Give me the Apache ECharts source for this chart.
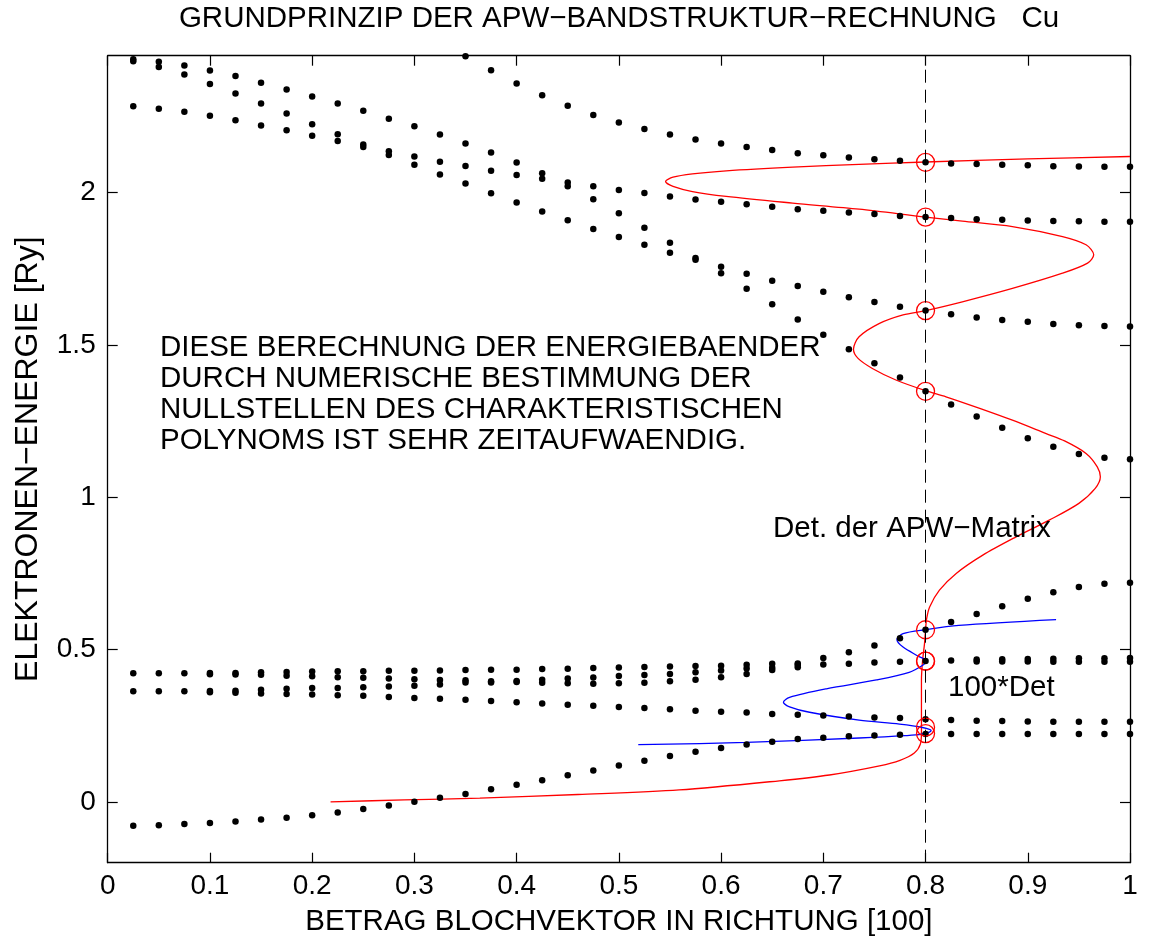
<!DOCTYPE html>
<html>
<head>
<meta charset="utf-8">
<script src="https://cdn.jsdelivr.net/npm/echarts@6/dist/echarts.min.js"></script>
<style>
html,body{margin:0;padding:0;background:#fff;}
#c{width:1151px;height:944px;}
</style>
</head>
<body>
<div id="c"></div>
<script>
// Bloch vector positions (columns of computed dots)
const kx = [0.025,0.05,0.075,0.1,0.125,0.15,0.175,0.2,0.225,0.25,0.275,0.3,0.325,0.35,0.375,0.4,0.425,0.45,0.475,0.5,
            0.525,0.55,0.575,0.6,0.625,0.65,0.675,0.7,0.725,0.75,0.775,0.8,0.825,0.85,0.875,0.9,0.925,0.95,0.975,1.0];

// upper band energies per column [Ry]
const eHigh = [
 [2.438,2.432,2.284],[2.430,2.413,2.276],[2.418,2.388,2.266],[2.401,2.357,2.253],[2.383,2.326,2.238],
 [2.361,2.293,2.221],[2.339,2.260,2.205],[2.316,2.225,2.187],[2.293,2.192,2.170],[2.269,2.158,2.150],
 [2.243,2.136,2.124],[2.218,2.119,2.092],[2.191,2.102,2.060],[2.448,2.162,2.088,2.030],[2.402,2.132,2.072,1.998],
 [2.359,2.099,2.058,1.968],[2.320,2.064,2.046,1.938],[2.286,2.034,2.021,1.910],[2.255,2.021,1.979,1.881],[2.231,2.009,1.933,1.855],
 [2.209,1.999,1.885,1.829],[2.191,1.988,1.836,1.803],[2.175,1.978,1.786,1.780],[2.162,1.970,1.757,1.736],[2.150,1.962,1.734,1.685],
 [2.140,1.954,1.711,1.634],[2.130,1.946,1.694,1.584],[2.123,1.941,1.675,1.534],[2.116,1.935,1.657,1.486],[2.110,1.930,1.641,1.440],
 [2.105,1.924,1.626,1.393],[2.100,1.920,1.613,1.348],[2.096,1.917,1.601,1.305],[2.094,1.913,1.590,1.265],[2.092,1.911,1.582,1.228],
 [2.090,1.909,1.576,1.194],[2.087,1.907,1.569,1.166],[2.086,1.906,1.565,1.142],[2.085,1.905,1.562,1.130],[2.085,1.905,1.561,1.125]
];

// lower band energies per column [Ry]
const eLow = [
 [0.422,0.363,-0.079],[0.422,0.363,-0.077],[0.422,0.363,-0.073],[0.423,0.419,0.364,0.360,-0.070],[0.423,0.418,0.365,0.358,-0.065],
 [0.425,0.417,0.368,0.356,-0.058],[0.426,0.414,0.371,0.354,-0.052],[0.428,0.412,0.374,0.352,-0.044],[0.429,0.409,0.374,0.350,-0.035],[0.429,0.407,0.376,0.348,-0.024],
 [0.430,0.405,0.379,0.344,-0.012],[0.430,0.402,0.381,0.341,0.000],[0.431,0.400,0.385,0.338,0.013],[0.433,0.399,0.392,0.335,0.026],[0.434,0.396,0.392,0.331,0.041],
 [0.434,0.397,0.393,0.327,0.056],[0.436,0.401,0.391,0.323,0.071],[0.437,0.405,0.389,0.319,0.087],[0.439,0.408,0.388,0.315,0.103],[0.441,0.413,0.389,0.311,0.119],
 [0.443,0.416,0.391,0.308,0.135],[0.444,0.420,0.396,0.304,0.150],[0.446,0.425,0.401,0.299,0.164],[0.447,0.431,0.409,0.296,0.177],[0.450,0.438,0.420,0.293,0.188],
 [0.453,0.440,0.433,0.288,0.197],[0.454,0.449,0.442,0.286,0.206],[0.472,0.451,0.283,0.210],[0.491,0.453,0.280,0.215],[0.513,0.457,0.277,0.218],
 [0.537,0.460,0.275,0.220],[0.565,0.462,0.271,0.223],[0.590,0.464,0.269,0.223],[0.617,0.467,0.461,0.266,0.223],[0.642,0.468,0.461,0.265,0.223],
 [0.667,0.469,0.461,0.264,0.223],[0.688,0.470,0.460,0.263,0.223],[0.705,0.471,0.460,0.263,0.223],[0.716,0.471,0.460,0.263,0.223],[0.719,0.472,0.460,0.263,0.223]
];

// Determinant of the APW matrix (red): curve traced as (k, E)
const redK = [0.218,0.290,0.364,0.460,0.559,0.657,0.706,0.755,0.775,0.789,0.795,0.796,0.796,0.796,0.797,0.799,0.800,0.801,0.804,0.8136,
              0.830,0.856,0.8886,0.921,0.950,0.966,0.971,0.968,0.957,0.936,0.918,0.885,0.853,0.820,0.800,0.771,0.748,0.734,0.7295,0.735,
              0.755,0.778,0.800,0.836,0.885,0.934,0.9585,0.9645,0.957,0.934,0.885,0.836,0.800,0.735,0.670,0.605,0.572,0.553,0.5457,0.553,
              0.572,0.605,0.670,0.735,0.800,0.900,1.000];
const redE = [0.000,0.006,0.012,0.024,0.039,0.069,0.088,0.118,0.136,0.160,0.190,0.230,0.300,0.400,0.460,0.520,0.565,0.600,0.640,0.695,
              0.750,0.810,0.870,0.925,0.980,1.029,1.067,1.100,1.144,1.185,1.209,1.253,1.292,1.330,1.350,1.385,1.423,1.456,1.486,1.527,
              1.571,1.599,1.613,1.642,1.686,1.736,1.769,1.796,1.829,1.856,1.889,1.907,1.920,1.946,1.966,1.988,2.004,2.021,2.037,2.051,
              2.062,2.072,2.084,2.093,2.101,2.111,2.119];

// 100*Det (blue)
const blueK = [0.519,0.6246,0.735,0.780,0.796,0.8055,0.797,0.7745,0.735,0.6865,0.667,0.661,0.667,0.703,0.752,0.784,0.798,0.801,0.793,0.778,
               0.772,0.778,0.800,0.8326,0.9277];
const blueE = [0.1875,0.195,0.2095,0.217,0.222,0.2336,0.244,0.255,0.268,0.294,0.312,0.327,0.343,0.371,0.400,0.425,0.450,0.462,0.478,0.508,
               0.532,0.552,0.565,0.579,0.598];

// roots found at k = 0.8 (red circles)
const rootK = 0.8;
const rootE = [2.100,1.920,1.613,1.348,0.565,0.462,0.462,0.245,0.224];

const xTicks = [0,0.1,0.2,0.3,0.4,0.5,0.6,0.7,0.8,0.9,1];
const yTicks = [0,0.5,1,1.5,2];

const titleText = 'GRUNDPRINZIP DER APW\u2212BANDSTRUKTUR\u2212RECHNUNG   Cu';
const xName = 'BETRAG BLOCHVEKTOR IN RICHTUNG [100]';
const yName = 'ELEKTRONEN\u2212ENERGIE [Ry]';
const noteLines = ['DIESE BERECHNUNG DER ENERGIEBAENDER','DURCH NUMERISCHE BESTIMMUNG DER','NULLSTELLEN DES CHARAKTERISTISCHEN','POLYNOMS IST SEHR ZEITAUFWAENDIG.'];
const detLabel = 'Det. der APW\u2212Matrix';
const det100Label = '100*Det';

// ---- build
const dots = [];
kx.forEach((k,i)=>{ eHigh[i].forEach(e=>dots.push([k,e])); eLow[i].forEach(e=>dots.push([k,e])); });
const redData = redK.map((k,i)=>[k,redE[i]]);
const blueData = blueK.map((k,i)=>[k,blueE[i]]);
const rootData = rootE.map(e=>[rootK,e]);

const FONT = 'Liberation Sans, Arial, Helvetica, sans-serif';
const FS = 29.5;
function axisCommon(ticks){
  return {
    axisLine:{show:true,onZero:false,lineStyle:{color:'#000',width:1.3}},
    axisTick:{show:true,inside:true,length:10,customValues:ticks,lineStyle:{color:'#000',width:1.2}},
    splitLine:{show:false}
  };
}

const chart = echarts.init(document.getElementById('c'), null, {renderer:'canvas'});
chart.setOption({
  animation:false,
  backgroundColor:'#fff',
  grid:{left:107.7,right:21,top:55.7,bottom:81.3,containLabel:false},
  xAxis:[
    Object.assign({type:'value',min:0,max:1,position:'bottom',
      name:xName,nameLocation:'middle',nameGap:44,
      nameTextStyle:{fontFamily:FONT,fontSize:FS,color:'#000'},
      axisLabel:{fontFamily:FONT,fontSize:28,color:'#000',margin:10,customValues:xTicks}},axisCommon(xTicks)),
    Object.assign({type:'value',min:0,max:1,position:'top',axisLabel:{show:false}},axisCommon(xTicks))
  ],
  yAxis:[
    Object.assign({type:'value',min:-0.2,max:2.45,position:'left',
      name:yName,nameLocation:'middle',nameGap:64,
      nameTextStyle:{fontFamily:FONT,fontSize:32,color:'#000'},
      axisLabel:{fontFamily:FONT,fontSize:28,color:'#000',margin:12,customValues:yTicks}},axisCommon(yTicks)),
    Object.assign({type:'value',min:-0.2,max:2.45,position:'right',axisLabel:{show:false}},axisCommon(yTicks))
  ],
  graphic:[
    {type:'text',x:619,y:19,z:100,style:{text:titleText,fontFamily:FONT,fontSize:FS,fill:'#000',align:'center',verticalAlign:'middle'}},
    {type:'text',x:160,y:333,z:100,style:{text:noteLines.join('\n'),fontFamily:FONT,fontSize:FS,lineHeight:30.7,fill:'#000'}},
    {type:'text',x:773,y:529,z:100,style:{text:detLabel,fontFamily:FONT,fontSize:FS,fill:'#000',verticalAlign:'middle'}},
    {type:'text',x:948,y:688,z:100,style:{text:det100Label,fontFamily:FONT,fontSize:FS,fill:'#000',verticalAlign:'middle'}}
  ],
  series:[
    {type:'line',name:'Det',data:redData,showSymbol:false,smooth:0.3,z:2,
     lineStyle:{color:'#ff0000',width:1.3},
     markLine:{silent:true,symbol:'none',label:{show:false},
       lineStyle:{color:'#000',type:[13,7],width:1},data:[{xAxis:rootK}]}},
    {type:'line',name:'100*Det',data:blueData,showSymbol:false,smooth:0.3,z:2,
     lineStyle:{color:'#0000ff',width:1.3}},
    {type:'scatter',name:'bands',data:dots,symbol:'circle',symbolSize:6.5,z:3,
     itemStyle:{color:'#000',opacity:1}},
    {type:'scatter',name:'roots',data:rootData,symbol:'circle',symbolSize:18,z:4,
     itemStyle:{color:'rgba(0,0,0,0)',borderColor:'#ff0000',borderWidth:1.3,opacity:1}}
  ]
});
</script>
</body>
</html>
